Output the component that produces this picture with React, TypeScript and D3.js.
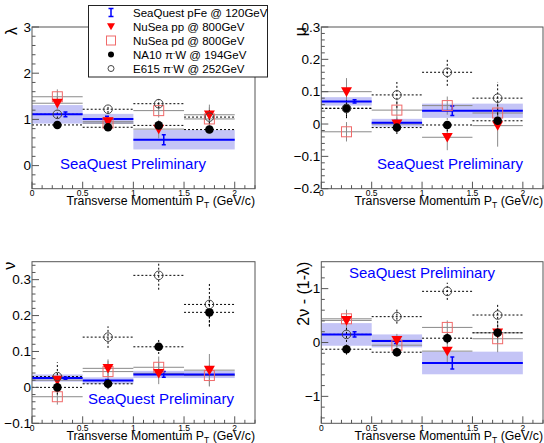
import React, { useEffect, useRef } from "react";
import * as d3 from "d3";

// pT bins (GeV/c)
const binCenters = [0.25, 0.75, 1.25, 1.75];
const binHalfWidth = 0.25;
const sqBinLow = [0, 0.5, 1.0];
const sqBinHigh = [0.5, 1.0, 2.0];
const sqMeanPt = [0.33, 0.74, 1.3];

const xTickValues = [0, 0.5, 1, 1.5, 2];
const xTickLabels = ["0", "0.5", "1", "1.5", "2"];

// lambda
const sqLambda = [1.11, 1.01, 0.56];
const sqLambdaStat = [0.05, 0.06, 0.11];
const sqLambdaSys = [0.2, 0.11, 0.21];
const ppLambda = [1.35, 0.95, 0.79, 1.1];
const ppLambdaErr = [0.13, 0.1, 0.2, 0.22];
const pdLambda = [1.49, 0.92, 1.19, 1.01];
const pdLambdaErr = [0.16, 0.1, 0.15, 0.25];
const na10Lambda = [0.88, 0.83, 0.87, 0.78];
const na10LambdaErr = [0.06, 0.05, 0.08, 0.07];
const e615Lambda = [1.11, 1.22, 1.34, 1.05];
const e615LambdaErr = [0.09, 0.08, 0.1, 0.15];
const lambdaTicks = [0, 1, 2, 3];
const lambdaTickLabels = ["0", "1", "2", "3"];

// mu
const sqMu = [0.07, 0.004, 0.041];
const sqMuStat = [0.005, 0.007, 0.015];
const sqMuSys = [0.013, 0.012, 0.022];
const ppMu = [0.1, 0.0, -0.041, -0.005];
const ppMuErr = [0.042, 0.02, 0.04, 0.065];
const pdMu = [-0.024, 0.043, 0.057, 0.034];
const pdMuErr = [0.03, 0.03, 0.028, 0.035];
const na10Mu = [0.049, -0.011, -0.003, 0.01];
const na10MuErr = [0.025, 0.02, 0.02, 0.02];
const e615Mu = [0.048, 0.09, 0.16, 0.08];
const e615MuErr = [0.03, 0.04, 0.042, 0.05];
const muTicks = [-0.2, -0.1, 0, 0.1, 0.2, 0.3];
const muTickLabels = ["\u22120.2", "\u22120.1", "0", "0.1", "0.2", "0.3"];

// nu
const sqNu = [0.026, 0.019, 0.036];
const sqNuStat = [0.003, 0.003, 0.008];
const sqNuSys = [0.01, 0.009, 0.01];
const ppNu = [0.02, 0.053, 0.039, 0.048];
const ppNuErr = [0.02, 0.025, 0.03, 0.045];
const pdNu = [-0.026, 0.044, 0.056, 0.033];
const pdNuErr = [0.022, 0.03, 0.03, 0.03];
const na10Nu = [0.0, 0.01, 0.113, 0.209];
const na10NuErr = [0.02, 0.015, 0.02, 0.04];
const e615Nu = [0.03, 0.14, 0.312, 0.231];
const e615NuErr = [0.04, 0.03, 0.04, 0.06];
const nuTicks = [-0.1, 0, 0.1, 0.2, 0.3];
const nuTickLabels = ["\u22120.1", "0", "0.1", "0.2", "0.3"];

// 2nu - (1 - lambda)
const sqLT = [0.15, 0.03, -0.38];
const sqLTStat = [0.05, 0.05, 0.11];
const sqLTSys = [0.21, 0.12, 0.21];
const ppLT = [0.41, 0.04, -0.16, 0.18];
const ppLTErr = [0.2, 0.12, 0.24, 0.2];
const pdLT = [0.44, -0.05, 0.28, 0.07];
const pdLTErr = [0.15, 0.12, 0.13, 0.25];
const na10LT = [-0.125, -0.18, 0.08, 0.18];
const na10LTErr = [0.1, 0.08, 0.1, 0.1];
const e615LT = [0.15, 0.48, 0.95, 0.51];
const e615LTErr = [0.14, 0.13, 0.16, 0.22];
const ltTicks = [-1, 0, 1];
const ltTickLabels = ["\u22121", "0", "1"];

const legendNames = [
  "SeaQuest pFe @ 120GeV",
  "NuSea pp @ 800GeV",
  "NuSea pd @ 800GeV",
  "NA10 \u03c0^-W @ 194GeV",
  "E615 \u03c0^-W @ 252GeV",
];

const FONT = "'Liberation Sans', Arial, Helvetica, sans-serif";
const BAND = "#c4c4f6";
const BLUE = "#0000ff";
const RED = "#ff0000";
const PINK = "#f06a6a";
const GRAY = "#8a8a8a";

const panels = [
  {
    id: "p1", x0: 32, x1: 255, y0: 27, y1: 188.7, yDomain: [-0.5, 3], minor: 0.2,
    ticks: lambdaTicks, tickLabels: lambdaTickLabels, title: "\u03bb", titleX: 17,
    sq: sqLambda, sqStat: sqLambdaStat, sqSys: sqLambdaSys,
    pp: ppLambda, ppErr: ppLambdaErr, pd: pdLambda, pdErr: pdLambdaErr,
    na10: na10Lambda, na10Err: na10LambdaErr, e615: e615Lambda, e615Err: e615LambdaErr,
    prelimX: 60, prelimY: 168.5, xTitleY: 204.5,
  },
  {
    id: "p2", x0: 321.3, x1: 543, y0: 27, y1: 188.7, yDomain: [-0.2, 0.3], minor: 0.02,
    ticks: muTicks, tickLabels: muTickLabels, title: "\u03bc", titleX: 306,
    sq: sqMu, sqStat: sqMuStat, sqSys: sqMuSys,
    pp: ppMu, ppErr: ppMuErr, pd: pdMu, pdErr: pdMuErr,
    na10: na10Mu, na10Err: na10MuErr, e615: e615Mu, e615Err: e615MuErr,
    prelimX: 377, prelimY: 168.5, xTitleY: 204.5,
  },
  {
    id: "p3", x0: 32, x1: 255, y0: 261.7, y1: 423.3, yDomain: [-0.1, 0.35], minor: 0.02,
    ticks: nuTicks, tickLabels: nuTickLabels, title: "\u03bd", titleX: 15,
    sq: sqNu, sqStat: sqNuStat, sqSys: sqNuSys,
    pp: ppNu, ppErr: ppNuErr, pd: pdNu, pdErr: pdNuErr,
    na10: na10Nu, na10Err: na10NuErr, e615: e615Nu, e615Err: e615NuErr,
    prelimX: 88, prelimY: 403.5, xTitleY: 439.5,
  },
  {
    id: "p4", x0: 321.3, x1: 543, y0: 261.7, y1: 423.3, yDomain: [-1.5, 1.5], minor: 0.2,
    ticks: ltTicks, tickLabels: ltTickLabels, title: "2\u03bd - (1-\u03bb)", titleX: 309,
    sq: sqLT, sqStat: sqLTStat, sqSys: sqLTSys,
    pp: ppLT, ppErr: ppLTErr, pd: pdLT, pdErr: pdLTErr,
    na10: na10LT, na10Err: na10LTErr, e615: e615LT, e615Err: e615LTErr,
    prelimX: 349, prelimY: 277.5, xTitleY: 439.5,
  },
];

function triangleDown(cx: number, cy: number, s: number) {
  return `M${cx - s},${cy - s * 0.8}L${cx + s},${cy - s * 0.8}L${cx},${cy + s * 0.95}Z`;
}

function drawMarker(g: any, kind: string, cx: number, cy: number) {
  if (kind === "pp") {
    g.append("path").attr("d", triangleDown(cx, cy, 5.5)).attr("fill", RED);
  } else if (kind === "pd") {
    g.append("rect").attr("x", cx - 5).attr("y", cy - 5).attr("width", 10).attr("height", 10)
      .attr("fill", "none").attr("stroke", PINK).attr("stroke-width", 1);
  } else if (kind === "na10") {
    g.append("circle").attr("cx", cx).attr("cy", cy).attr("r", 4.3).attr("fill", "#000");
  } else if (kind === "e615") {
    g.append("circle").attr("cx", cx).attr("cy", cy).attr("r", 4.3)
      .attr("fill", "none").attr("stroke", "#444").attr("stroke-width", 1);
  }
}

function drawPanel(svg: any, p: any) {
  const x = d3.scaleLinear().domain([0, 2.2]).range([p.x0, p.x1]);
  const y = d3.scaleLinear().domain(p.yDomain).range([p.y1, p.y0]);

  svg.append("clipPath").attr("id", "clip-" + p.id)
    .append("rect").attr("x", p.x0).attr("y", p.y0)
    .attr("width", p.x1 - p.x0).attr("height", p.y1 - p.y0);

  const g = svg.append("g").attr("clip-path", `url(#clip-${p.id})`);
  const idx3 = d3.range(sqBinLow.length);

  // SeaQuest systematic band
  g.selectAll("rect.band").data(idx3).enter().append("rect")
    .attr("class", "band")
    .attr("x", (i: number) => x(sqBinLow[i]))
    .attr("width", (i: number) => x(sqBinHigh[i]) - x(sqBinLow[i]))
    .attr("y", (i: number) => y(p.sq[i] + p.sqSys[i]))
    .attr("height", (i: number) => y(p.sq[i] - p.sqSys[i]) - y(p.sq[i] + p.sqSys[i]))
    .attr("fill", BAND);

  const series = [
    { kind: "pd", v: p.pd, e: p.pdErr, stroke: GRAY, dash: null },
    { kind: "pp", v: p.pp, e: p.ppErr, stroke: GRAY, dash: null },
    { kind: "na10", v: p.na10, e: p.na10Err, stroke: "#000", dash: "2,2" },
    { kind: "e615", v: p.e615, e: p.e615Err, stroke: "#000", dash: "2,2" },
  ];

  // error bars (horizontal + vertical) for the four reference data sets
  series.forEach((s) => {
    binCenters.forEach((c, i) => {
      g.append("line")
        .attr("x1", x(c - binHalfWidth)).attr("x2", x(c + binHalfWidth))
        .attr("y1", y(s.v[i])).attr("y2", y(s.v[i]))
        .attr("stroke", s.stroke).attr("stroke-width", 1)
        .attr("stroke-dasharray", s.dash);
      g.append("line")
        .attr("x1", x(c)).attr("x2", x(c))
        .attr("y1", y(s.v[i] - s.e[i])).attr("y2", y(s.v[i] + s.e[i]))
        .attr("stroke", s.stroke).attr("stroke-width", 1)
        .attr("stroke-dasharray", s.dash);
    });
  });

  // SeaQuest central value line + stat error
  idx3.forEach((i: number) => {
    g.append("line")
      .attr("x1", x(sqBinLow[i])).attr("x2", x(sqBinHigh[i]))
      .attr("y1", y(p.sq[i])).attr("y2", y(p.sq[i]))
      .attr("stroke", BLUE).attr("stroke-width", 2);
    const xm = x(sqMeanPt[i]);
    const ya = y(p.sq[i] - p.sqStat[i]);
    const yb = y(p.sq[i] + p.sqStat[i]);
    g.append("path")
      .attr("d", `M${xm},${ya}L${xm},${yb}M${xm - 2},${ya}L${xm + 2},${ya}M${xm - 2},${yb}L${xm + 2},${yb}`)
      .attr("stroke", BLUE).attr("stroke-width", 1.5).attr("fill", "none");
  });

  // markers
  series.forEach((s) => {
    binCenters.forEach((c, i) => drawMarker(g, s.kind, x(c), y(s.v[i])));
  });

  // frame
  svg.append("rect").attr("x", p.x0).attr("y", p.y0)
    .attr("width", p.x1 - p.x0).attr("height", p.y1 - p.y0)
    .attr("fill", "none").attr("stroke", "#555").attr("stroke-width", 1);

  // y ticks
  const [ylo, yhi] = p.yDomain;
  const yMinor = d3.range(Math.ceil(ylo / p.minor - 1e-6), Math.floor(yhi / p.minor + 1e-6) + 1).map((k) => k * p.minor);
  svg.selectAll(null).data(yMinor).enter().append("line")
    .attr("x1", p.x0).attr("x2", (d: number) => p.x0 + (p.ticks.some((t: number) => Math.abs(t - d) < 1e-6) ? 7 : 3.5))
    .attr("y1", (d: number) => y(d)).attr("y2", (d: number) => y(d))
    .attr("stroke", "#555").attr("stroke-width", 1);
  svg.selectAll(null).data(p.ticks).enter().append("text")
    .attr("x", p.x0 - 1).attr("y", (d: number) => y(d))
    .attr("text-anchor", "end").attr("dominant-baseline", "central")
    .attr("font-family", FONT).attr("font-size", 13.5)
    .text((d: number, i: number) => p.tickLabels[i]);

  // x ticks
  const xMinor = d3.range(0, 23).map((k) => k * 0.1);
  svg.selectAll(null).data(xMinor).enter().append("line")
    .attr("x1", (d: number) => x(d)).attr("x2", (d: number) => x(d))
    .attr("y1", p.y1).attr("y2", (d: number, k: number) => p.y1 - (k % 5 === 0 ? 7 : 3.5))
    .attr("stroke", "#555").attr("stroke-width", 1);
  svg.selectAll(null).data(xTickValues).enter().append("text")
    .attr("x", (d: number) => x(d)).attr("y", p.y1 + 7.5)
    .attr("text-anchor", "middle")
    .attr("font-family", FONT).attr("font-size", 8.5)
    .text((d: number, i: number) => xTickLabels[i]);

  // x title
  const xt = svg.append("text").attr("x", p.x1).attr("y", p.xTitleY)
    .attr("text-anchor", "end").attr("font-family", FONT).attr("font-size", 12.3);
  xt.append("tspan").text("Transverse Momentum P");
  xt.append("tspan").attr("font-size", 8.5).attr("dy", 3).text("T");
  xt.append("tspan").attr("dy", -3).text(" (GeV/c)");

  // y title
  svg.append("text")
    .attr("transform", `translate(${p.titleX},${p.y0}) rotate(-90)`)
    .attr("text-anchor", "end").attr("font-family", FONT).attr("font-size", 16)
    .text(p.title);

  // preliminary label
  svg.append("text").attr("x", p.prelimX).attr("y", p.prelimY)
    .attr("font-family", FONT).attr("font-size", 15).attr("fill", BLUE)
    .text("SeaQuest Preliminary");
}

function drawLegend(svg: any) {
  const g = svg.append("g");
  g.append("rect").attr("x", 88.5).attr("y", 5.5).attr("width", 179).attr("height", 71.5)
    .attr("fill", "#fff").attr("stroke", "#222").attr("stroke-width", 1);
  const kinds = ["sq", "pp", "pd", "na10", "e615"];
  legendNames.forEach((name, i) => {
    const cy = 12.5 + i * 14;
    const cx = 111;
    if (kinds[i] === "sq") {
      g.append("path")
        .attr("d", `M${cx},${cy - 4}L${cx},${cy + 4}M${cx - 2.5},${cy - 4}L${cx + 2.5},${cy - 4}M${cx - 2.5},${cy + 4}L${cx + 2.5},${cy + 4}`)
        .attr("stroke", BLUE).attr("stroke-width", 1.5).attr("fill", "none");
    } else if (kinds[i] === "pp") {
      g.append("path").attr("d", triangleDown(cx, cy, 4)).attr("fill", RED);
    } else if (kinds[i] === "pd") {
      g.append("rect").attr("x", cx - 4.5).attr("y", cy - 4.5).attr("width", 9).attr("height", 9)
        .attr("fill", "none").attr("stroke", PINK);
    } else if (kinds[i] === "na10") {
      g.append("circle").attr("cx", cx).attr("cy", cy).attr("r", 3).attr("fill", "#000");
    } else {
      g.append("circle").attr("cx", cx).attr("cy", cy).attr("r", 3)
        .attr("fill", "none").attr("stroke", "#444");
    }
    const t = g.append("text").attr("x", 133).attr("y", cy + 4)
      .attr("font-family", FONT).attr("font-size", 11.5);
    const parts = name.split("^-");
    if (parts.length === 2) {
      t.append("tspan").text(parts[0]);
      t.append("tspan").attr("font-size", 7).attr("dy", -4).text("-");
      t.append("tspan").attr("dy", 4).text(parts[1]);
    } else {
      t.text(name);
    }
  });
}

export default function App() {
  const ref = useRef<SVGSVGElement | null>(null);

  useEffect(() => {
    const svg = d3.select(ref.current);
    svg.selectAll("*").remove();
    panels.forEach((p) => drawPanel(svg, p));
    drawLegend(svg);
  }, []);

  return (
    <svg
      ref={ref}
      width={544}
      height={443}
      style={{ position: "absolute", left: 0, top: 0, background: "#fff" }}
    />
  );
}
